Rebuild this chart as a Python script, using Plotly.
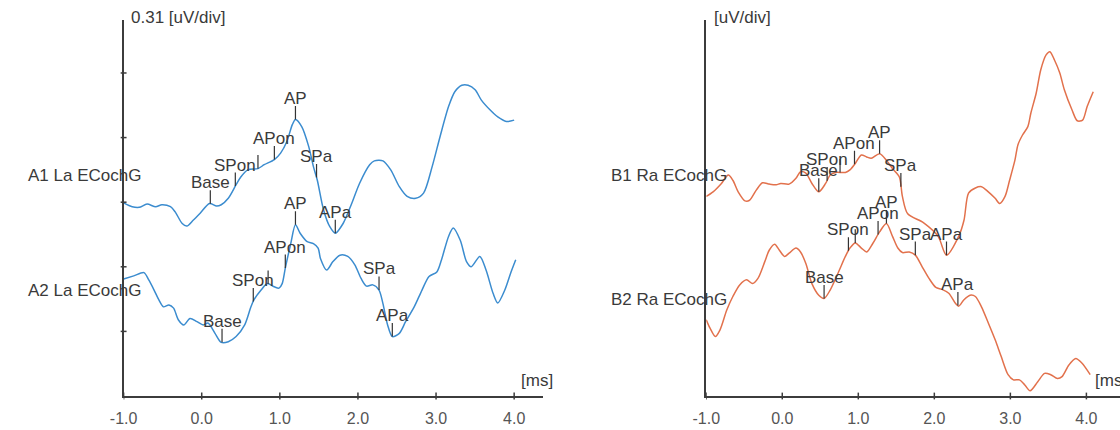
import numpy as np
import plotly.graph_objects as go

# ---------------------------------------------------------------------------
# ECochG recordings. Time in ms, amplitude in display divisions
# (0.31 uV/div), each channel drawn at its own vertical position.
# ---------------------------------------------------------------------------

# A1 La ECochG (left ear, upper trace)
a1_t = [-1.00, -0.89, -0.80, -0.70, -0.59, -0.51, -0.40, -0.34, -0.25, -0.19,
        -0.11, -0.02, 0.10, 0.19, 0.25, 0.34, 0.44, 0.50, 0.59, 0.72,
        0.80, 0.93, 1.01, 1.09, 1.16, 1.20, 1.28, 1.37, 1.43, 1.48,
        1.56, 1.64, 1.71, 1.81, 1.92, 2.02, 2.15, 2.21, 2.32, 2.42,
        2.53, 2.63, 2.74, 2.84, 2.95, 3.05, 3.16, 3.24, 3.33, 3.41,
        3.50, 3.58, 3.69, 3.79, 3.90, 4.00]
a1_v = [2.99, 2.93, 2.92, 2.97, 2.93, 2.96, 2.93, 2.85, 2.67, 2.63,
        2.72, 2.83, 2.98, 2.94, 2.96, 3.06, 3.27, 3.39, 3.50, 3.52,
        3.58, 3.66, 3.76, 3.94, 4.20, 4.28, 4.17, 3.86, 3.55, 3.34,
        2.88, 2.62, 2.52, 2.67, 2.98, 3.29, 3.58, 3.64, 3.64, 3.50,
        3.24, 3.09, 3.06, 3.14, 3.55, 4.01, 4.48, 4.71, 4.81, 4.81,
        4.74, 4.58, 4.43, 4.32, 4.25, 4.27]

# A2 La ECochG (left ear, lower trace)
a2_t = [-1.00, -0.87, -0.74, -0.68, -0.61, -0.55, -0.49, -0.42, -0.36, -0.30,
        -0.23, -0.15, -0.06, 0.02, 0.08, 0.17, 0.25, 0.34, 0.44, 0.55,
        0.63, 0.67, 0.76, 0.84, 0.93, 0.99, 1.03, 1.07, 1.14, 1.20,
        1.26, 1.35, 1.43, 1.49, 1.52, 1.60, 1.68, 1.77, 1.87, 1.96,
        2.04, 2.11, 2.19, 2.27, 2.32, 2.38, 2.44, 2.53, 2.61, 2.72,
        2.82, 2.91, 3.01, 3.07, 3.16, 3.22, 3.31, 3.39, 3.45, 3.56,
        3.64, 3.73, 3.79, 3.88, 3.96, 4.02]
a2_v = [1.81, 1.86, 1.91, 1.80, 1.64, 1.49, 1.38, 1.41, 1.36, 1.18,
        1.10, 1.20, 1.15, 1.10, 1.13, 0.97, 0.83, 0.84, 0.92, 1.10,
        1.38, 1.49, 1.64, 1.74, 1.69, 1.67, 1.74, 1.98, 2.36, 2.65,
        2.52, 2.39, 2.36, 2.29, 2.13, 1.95, 2.08, 2.18, 2.16, 2.03,
        1.82, 1.70, 1.72, 1.64, 1.43, 1.10, 0.92, 0.97, 1.15, 1.38,
        1.64, 1.85, 1.92, 2.11, 2.47, 2.60, 2.41, 2.08, 2.00, 2.16,
        1.95, 1.59, 1.44, 1.64, 1.92, 2.11]

# B1 Ra ECochG (right ear, upper trace)
b1_t = [-1.00, -0.91, -0.80, -0.71, -0.65, -0.58, -0.49, -0.43, -0.34, -0.26,
        -0.17, -0.08, -0.02, 0.09, 0.18, 0.24, 0.31, 0.39, 0.48, 0.57,
        0.63, 0.70, 0.83, 0.89, 0.96, 1.04, 1.11, 1.17, 1.28, 1.37,
        1.45, 1.54, 1.58, 1.65, 1.86, 2.05, 2.16, 2.32, 2.39, 2.45,
        2.54, 2.62, 2.71, 2.80, 2.86, 2.93, 2.99, 3.06, 3.10, 3.16,
        3.23, 3.27, 3.34, 3.40, 3.47, 3.52, 3.58, 3.65, 3.71, 3.81,
        3.88, 3.95, 4.01, 4.09]
b1_v = [3.09, 3.16, 3.29, 3.42, 3.34, 3.16, 3.02, 3.03, 3.19, 3.30,
        3.28, 3.27, 3.29, 3.28, 3.37, 3.47, 3.45, 3.29, 3.16, 3.29,
        3.42, 3.46, 3.46, 3.50, 3.60, 3.73, 3.70, 3.68, 3.75, 3.65,
        3.52, 3.39, 3.09, 2.82, 2.68, 2.47, 2.18, 2.47, 2.72, 3.14,
        3.22, 3.24, 3.16, 3.06, 2.98, 3.09, 3.34, 3.65, 3.89, 4.04,
        4.17, 4.38, 4.69, 5.05, 5.28, 5.33, 5.20, 5.00, 4.74, 4.43,
        4.26, 4.27, 4.48, 4.71]

# B2 Ra ECochG (right ear, lower trace)
b2_t = [-1.00, -0.95, -0.88, -0.82, -0.73, -0.65, -0.56, -0.47, -0.39, -0.32,
        -0.23, -0.17, -0.10, -0.04, 0.03, 0.09, 0.18, 0.24, 0.31, 0.39,
        0.48, 0.55, 0.63, 0.74, 0.83, 0.89, 0.96, 1.04, 1.11, 1.19,
        1.28, 1.37, 1.45, 1.52, 1.58, 1.67, 1.75, 1.84, 1.93, 2.02,
        2.10, 2.19, 2.28, 2.32, 2.39, 2.47, 2.54, 2.62, 2.71, 2.80,
        2.88, 2.97, 3.04, 3.12, 3.19, 3.26, 3.36, 3.45, 3.53, 3.62,
        3.68, 3.77, 3.86, 3.94, 4.05]
b2_v = [1.18, 1.05, 0.92, 1.02, 1.33, 1.54, 1.72, 1.80, 1.74, 1.82,
        2.08, 2.26, 2.35, 2.26, 2.16, 2.21, 2.29, 2.23, 2.05, 1.74,
        1.56, 1.51, 1.64, 1.92, 2.16, 2.29, 2.37, 2.29, 2.23, 2.36,
        2.54, 2.67, 2.47, 2.29, 2.22, 2.23, 2.18, 2.00, 1.82, 1.68,
        1.65, 1.59, 1.43, 1.39, 1.49, 1.56, 1.54, 1.38, 1.13, 0.87,
        0.61, 0.33, 0.25, 0.25, 0.17, 0.08, 0.22, 0.35, 0.33, 0.27,
        0.30, 0.48, 0.58, 0.51, 0.33]

# Event marks: names and latencies (ms); empty name = unlabeled mark
mark_names = ["Base", "SPon", "", "APon", "AP", "SPa", "APa"]
a1_mark_times = [0.11, 0.43, 0.72, 0.93, 1.20, 1.47, 1.71]
a2_mark_times = [0.26, 0.66, 0.85, 1.07, 1.20, 2.27, 2.44]
b1_mark_times = [0.48, 0.59, 0.76, 0.95, 1.28, 1.56, 2.16]
b2_mark_times = [0.55, 0.87, 0.96, 1.26, 1.37, 1.75, 2.31]

channel_names = ["A1 La ECochG", "A2 La ECochG", "B1 Ra ECochG", "B2 Ra ECochG"]
channel_label_y = [3.42, 1.64, 3.42, 1.49]

x_ticks = [-1, 0, 1, 2, 3, 4]
x_tick_text = ["-1.0", "0.0", "1.0", "2.0", "3.0", "4.0"]
y_ticks = [1, 2, 3, 4, 5]

# ---------------------------------------------------------------------------
FONT = "Liberation Sans, Arial, sans-serif"
TEXT = "#3a3a3a"
AXIS = "#3c3c3c"
BLUE = "#3b8ccf"
ORANGE = "#e2714c"
MARK_LEN = 0.21
LABEL_SIZE = 17
W, H = 1120, 430

fig = go.Figure()

channels = [
    (a1_t, a1_v, a1_mark_times, BLUE, "x", "y"),
    (a2_t, a2_v, a2_mark_times, BLUE, "x", "y"),
    (b1_t, b1_v, b1_mark_times, ORANGE, "x2", "y2"),
    (b2_t, b2_v, b2_mark_times, ORANGE, "x2", "y2"),
]

for (t, v, mt, color, xa, ya), name, ly in zip(channels, channel_names, channel_label_y):
    fig.add_trace(go.Scatter(
        x=t, y=v, mode="lines", name=name, xaxis=xa, yaxis=ya,
        line=dict(color=color, width=1.5, shape="spline", smoothing=0.8),
        hoverinfo="skip", showlegend=False))

    # event marks: short vertical strokes rising from the waveform
    base = np.interp(mt, t, v)
    xs, ys = [], []
    for tm, y0 in zip(mt, base):
        xs += [tm, tm, None]
        ys += [y0, y0 + MARK_LEN, None]
    fig.add_trace(go.Scatter(
        x=xs, y=ys, mode="lines", xaxis=xa, yaxis=ya,
        line=dict(color="#333333", width=1.2),
        hoverinfo="skip", showlegend=False))
    for label, tm, y0 in zip(mark_names, mt, base):
        if label:
            fig.add_annotation(
                x=tm, y=y0 + MARK_LEN, xref=xa, yref=ya, text=label,
                showarrow=False, xanchor="center", yanchor="bottom",
                borderpad=0, yshift=-3,
                font=dict(family=FONT, size=LABEL_SIZE, color=TEXT))

    # channel name to the left of the panel
    panel_left = 12 if xa == "x" else 603
    fig.add_annotation(
        x=panel_left / W, y=ly, xref="paper", yref=ya, text=name,
        showarrow=False, xanchor="left", yanchor="middle",
        font=dict(family=FONT, size=LABEL_SIZE, color=TEXT))

# scale / unit captions
for text, px, py, anchor in (("0.31 [uV/div]", 116, 18, "left"),
                             ("[uV/div]", 707, 18, "left"),
                             ("[ms]", 530, 380, "center"),
                             ("[ms]", 1093, 380, "left")):
    fig.add_annotation(x=px / W, y=(H - py) / H, xref="paper", yref="paper",
                       text=text, showarrow=False, xanchor=anchor,
                       yanchor="middle",
                       font=dict(family=FONT, size=LABEL_SIZE, color=TEXT))

# tick strokes crossing the axis lines
for xa, ya in (("x", "y"), ("x2", "y2")):
    for v in x_ticks:
        fig.add_shape(type="line", xref=xa, yref=f"{ya} domain",
                      x0=v, x1=v, y0=-0.009, y1=0.009,
                      line=dict(color=AXIS, width=1.5))
for v in y_ticks:
    fig.add_shape(type="line", xref="x domain", yref="y",
                  x0=-0.007, x1=0.007, y0=v, y1=v,
                  line=dict(color=AXIS, width=1.5))

y_dom = [(H - 396) / H, (H - 20) / H]
x_common = dict(showgrid=False, zeroline=False, showline=True,
                linecolor=AXIS, linewidth=2, ticks="outside", ticklen=7,
                tickcolor="rgba(0,0,0,0)", tickvals=x_ticks,
                ticktext=x_tick_text,
                tickfont=dict(family=FONT, size=16, color="#555555"))
y_common = dict(showgrid=False, zeroline=False, showline=True,
                linecolor=AXIS, linewidth=2, showticklabels=False,
                ticks="", range=[0, 5.82], domain=y_dom)

fig.update_layout(
    width=W, height=H,
    margin=dict(l=0, r=0, t=0, b=0),
    paper_bgcolor="white", plot_bgcolor="white",
    xaxis=dict(domain=[111 / W, 536 / W], range=[-1, 4.373],
               anchor="y", **x_common),
    yaxis=dict(anchor="x", **y_common),
    xaxis2=dict(domain=[701 / W, 1.0], range=[-1, 4.442],
                anchor="y2", **x_common),
    yaxis2=dict(anchor="x2", **y_common),
)

fig.write_html("out.html")
